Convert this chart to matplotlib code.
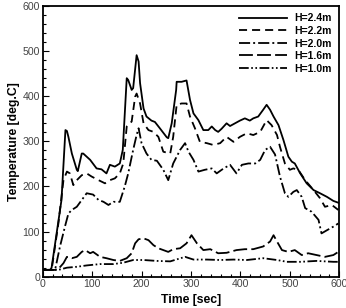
import matplotlib
matplotlib.use("Agg")
import matplotlib.pyplot as plt
from matplotlib.ticker import MultipleLocator

plt.rcParams['font.family'] = ['Liberation Sans', 'DejaVu Sans']
plt.rcParams['lines.scale_dashes'] = False

labels = ["H=2.4m", "H=2.2m", "H=2.0m", "H=1.6m", "H=1.0m"]

t24 = [0, 15, 18, 38, 46, 49, 52, 59, 69, 71, 79, 82, 96, 109, 119, 129, 136, 146, 156, 162,
       170, 173, 180, 183, 190, 194, 197, 204, 210, 220, 227, 237, 251, 254, 261, 270, 271,
       281, 291, 298, 305, 315, 325, 335, 342, 349, 355, 362, 372, 379, 389, 399, 409, 419,
       426, 436, 446, 453, 460, 467, 477, 487, 497, 504, 510, 521, 534, 548, 561, 575, 588, 598]
v24 = [15, 15, 20, 170, 325, 323, 310, 273, 237, 234, 273, 273, 259, 240, 238, 229, 248, 244, 251, 281,
       440, 436, 414, 418, 491, 477, 429, 373, 355, 346, 343, 329, 309, 307, 340, 414, 432,
       432, 435, 392, 362, 347, 325, 325, 333, 325, 321, 328, 340, 334, 340, 346, 351, 346,
       351, 355, 370, 381, 370, 355, 336, 303, 266, 255, 251, 229, 207, 192, 185, 177, 168, 164]

t22 = [0, 18, 32, 42, 49, 55, 62, 69, 79, 89, 99, 113, 126, 136, 146, 156, 163, 170, 180, 187,
       190, 197, 204, 214, 224, 234, 244, 258, 264, 271, 281, 291, 298, 308, 318, 332, 345,
       359, 372, 386, 399, 413, 426, 440, 453, 463, 474, 480, 490, 500, 507, 517, 531, 548,
       561, 571, 585, 598]
v22 = [15, 15, 120, 214, 233, 229, 203, 214, 225, 229, 222, 214, 207, 214, 218, 229, 251, 333, 344, 399,
       406, 384, 340, 325, 321, 310, 277, 273, 310, 381, 384, 384, 355, 329, 299, 296, 292,
       296, 310, 299, 310, 318, 314, 321, 347, 336, 314, 288, 251, 237, 240, 237, 214, 192,
       174, 155, 159, 148]

t20 = [0, 25, 35, 45, 52, 59, 69, 79, 89, 102, 113, 123, 133, 143, 156, 166, 173, 183, 190, 194,
       200, 210, 220, 231, 244, 254, 264, 278, 288, 295, 305, 315, 328, 342, 352, 366, 379,
       392, 403, 416, 430, 440, 450, 460, 470, 480, 490, 497, 507, 514, 524, 531, 544, 558,
       564, 575, 588, 598]
v20 = [15, 15, 67, 111, 140, 148, 155, 170, 185, 182, 170, 166, 159, 166, 166, 200, 229, 281, 314, 329,
       296, 273, 259, 257, 237, 214, 251, 281, 296, 277, 259, 233, 237, 240, 229, 240, 248,
       229, 248, 251, 251, 259, 281, 288, 271, 222, 185, 177, 188, 192, 177, 152, 144, 126,
       96, 103, 111, 118]

t16 = [0, 30, 42, 49, 59, 69, 79, 86, 96, 102, 116, 129, 143, 156, 170, 180, 187, 194, 204, 214,
       224, 234, 244, 254, 264, 278, 291, 301, 312, 325, 339, 355, 372, 392, 409, 426, 446,
       460, 467, 474, 484, 497, 510, 524, 537, 554, 571, 588, 598]
v16 = [15, 15, 30, 44, 41, 44, 55, 59, 52, 55, 44, 41, 37, 35, 41, 52, 74, 83, 85, 81,
       70, 63, 59, 55, 61, 63, 74, 92, 74, 59, 61, 52, 53, 59, 61, 61, 67,
       78, 92, 78, 59, 55, 59, 48, 52, 48, 44, 48, 55]

t10 = [0, 35, 49, 69, 89, 116, 143, 163, 183, 204, 231, 258, 288, 305, 332, 359, 386, 413, 446,
       474, 494, 521, 554, 588, 598]
v10 = [15, 16, 20, 22, 25, 28, 28, 31, 37, 37, 35, 34, 44, 38, 38, 37, 38, 37, 41,
       37, 33, 33, 35, 33, 33]

series = [(t24, v24), (t22, v22), (t20, v20), (t16, v16), (t10, v10)]
dashes = [None, (5.8, 3.6), (8.0, 2.2, 1.4, 2.2), (10.0, 3.0), (7.0, 1.8, 1.2, 1.8, 1.2, 1.8)]

fig = plt.figure(figsize=(3.46, 3.08), dpi=100)
ax = fig.add_axes([0.1234, 0.1016, 0.8572, 0.8789])

for (t, v), d, lab in zip(series, dashes, labels):
    line, = ax.plot(t, v, color='black', lw=1.3, label=lab)
    if d is not None:
        line.set_dashes(d)

ax.set_xlim(0, 600)
ax.set_ylim(0, 600)
ax.xaxis.set_major_locator(MultipleLocator(100))
ax.xaxis.set_minor_locator(MultipleLocator(20))
ax.yaxis.set_major_locator(MultipleLocator(100))
ax.yaxis.set_minor_locator(MultipleLocator(20))
ax.tick_params(which='both', direction='in', top=False, right=False, colors='black',
               labelcolor='#444444', labelsize=7.6, width=0.8)
ax.tick_params(which='major', length=4, pad=2)
ax.tick_params(which='minor', length=2)
for s in ax.spines.values():
    s.set_linewidth(1.3)

ax.set_xlabel("Time [sec]", fontsize=8.8, fontweight='bold', labelpad=3)
ax.set_ylabel("Temperature [deg.C]", fontsize=8.8, fontweight='bold', labelpad=2)

leg = ax.legend(loc='upper right', frameon=False, fontsize=7.5, handlelength=4.6,
                handletextpad=0.7, labelspacing=0.25, borderaxespad=0.3)
for txt in leg.get_texts():
    txt.set_fontweight('bold')

fig.savefig("out.png", dpi=100)
